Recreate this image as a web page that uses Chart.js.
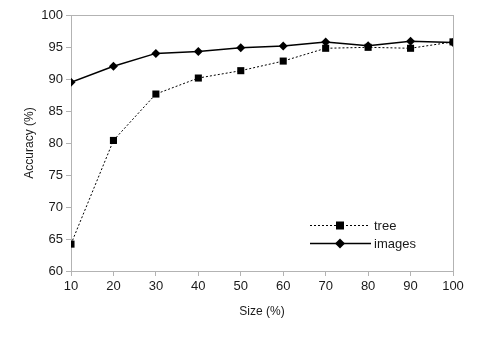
<!DOCTYPE html>
<html>
<head>
<meta charset="utf-8">
<script src="https://cdn.jsdelivr.net/npm/chart.js@4/dist/chart.umd.min.js"></script>
<style>
  html, body { margin: 0; padding: 0; background: #fff; }
  #wrap { width: 480px; height: 339px; }
</style>
</head>
<body>
<div id="wrap"><canvas id="chart" width="480" height="339"></canvas></div>
<script>
// data
var sizes = [10, 20, 30, 40, 50, 60, 70, 80, 90, 100];
var treeAcc = [64.2, 80.4, 87.65, 90.15, 91.3, 92.8, 94.8, 94.95, 94.8, 95.8];
var imagesAcc = [89.5, 92.0, 94.0, 94.3, 94.9, 95.15, 95.8, 95.2, 95.9, 95.7];
var yTicks = [60, 65, 70, 75, 80, 85, 90, 95, 100];

var axisGray = '#b3b3b3';
var textColor = '#1a1a1a';

function toPoints(vals) {
    return sizes.map(function(s, i) { return {x: s, y: vals[i]}; });
}

// box around the plot area + legend drawn inside it (line with marker)
var framePlugin = {
    id: 'frame',
    beforeDatasetsDraw: function(chart) {
        var a = chart.chartArea;
        var ctx = chart.ctx;
        ctx.save();
        ctx.strokeStyle = axisGray;
        ctx.lineWidth = 1;
        ctx.strokeRect(Math.round(a.left) + 0.5, Math.round(a.top) + 0.5,
            Math.round(a.right - a.left), Math.round(a.bottom - a.top));
        ctx.restore();
    },
    afterDraw: function(chart) {
        var ctx = chart.ctx;
        var rows = [{ds: 0, y: 225, x2: 368}, {ds: 1, y: 243, x2: 371}];
        ctx.save();
        rows.forEach(function(r) {
            var ds = chart.data.datasets[r.ds];
            var cy = r.y + 0.5;
            ctx.strokeStyle = ds.borderColor;
            ctx.lineWidth = ds.borderWidth;
            ctx.setLineDash(ds.borderDash || []);
            ctx.beginPath();
            ctx.moveTo(310, cy);
            ctx.lineTo(r.x2, cy);
            ctx.stroke();
            ctx.setLineDash([]);
            // marker
            ctx.fillStyle = '#000';
            ctx.beginPath();
            if (ds.pointStyle === 'rect') {
                ctx.rect(336, cy - 4, 8, 8);
            } else {
                ctx.moveTo(340, cy - 5);
                ctx.lineTo(345, cy);
                ctx.lineTo(340, cy + 5);
                ctx.lineTo(335, cy);
                ctx.closePath();
            }
            ctx.fill();
            ctx.fillStyle = textColor;
            ctx.font = '13px "Liberation Sans", Arial, sans-serif';
            ctx.textBaseline = 'middle';
            ctx.fillText(ds.label, 374, r.y + 1);
        });
        ctx.restore();
    }
};

var ctx = document.getElementById('chart').getContext('2d');
var chart = new Chart(ctx, {
    type: 'line',
    data: {
        datasets: [{
            label: 'tree',
            data: toPoints(treeAcc),
            borderColor: '#000',
            borderWidth: 1,
            borderDash: [2, 2],
            pointStyle: 'rect',
            pointRadius: 5,
            pointBackgroundColor: '#000',
            pointBorderWidth: 0,
            tension: 0
        }, {
            label: 'images',
            data: toPoints(imagesAcc),
            borderColor: '#000',
            borderWidth: 1.5,
            pointStyle: 'rectRot',
            pointRadius: 4.5,
            pointBackgroundColor: '#000',
            pointBorderWidth: 0,
            tension: 0
        }]
    },
    options: {
        responsive: false,
        animation: false,
        layout: {padding: {top: 15, right: 27, left: 0, bottom: 0}},
        plugins: {
            legend: {display: false},
            tooltip: {enabled: false}
        },
        scales: {
            x: {
                type: 'linear',
                min: 10,
                max: 100,
                afterFit: function(scale) { scale.height = 68; },
                afterBuildTicks: function(scale) {
                    scale.ticks = sizes.map(function(v) { return {value: v}; });
                },
                grid: {drawOnChartArea: false, drawTicks: true, tickLength: 5, color: axisGray},
                border: {color: axisGray},
                ticks: {color: textColor, padding: 3, maxRotation: 0,
                    font: {family: '"Liberation Sans", Arial, sans-serif', size: 13}},
                title: {display: true, text: 'Size (%)', color: textColor,
                    padding: {top: 0, bottom: 20},
                    font: {family: '"Liberation Sans", Arial, sans-serif', size: 12}}
            },
            y: {
                min: 60,
                max: 100,
                afterFit: function(scale) { scale.width = 71; },
                afterBuildTicks: function(scale) {
                    scale.ticks = yTicks.map(function(v) { return {value: v}; });
                },
                grid: {drawOnChartArea: false, drawTicks: true, tickLength: 5, color: axisGray},
                border: {color: axisGray},
                ticks: {color: textColor, padding: 3,
                    font: {family: '"Liberation Sans", Arial, sans-serif', size: 13}},
                title: {display: true, text: 'Accuracy (%)', color: textColor,
                    padding: {top: 22, bottom: 0},
                    font: {family: '"Liberation Sans", Arial, sans-serif', size: 12}}
            }
        }
    },
    plugins: [framePlugin]
});
</script>
</body>
</html>
